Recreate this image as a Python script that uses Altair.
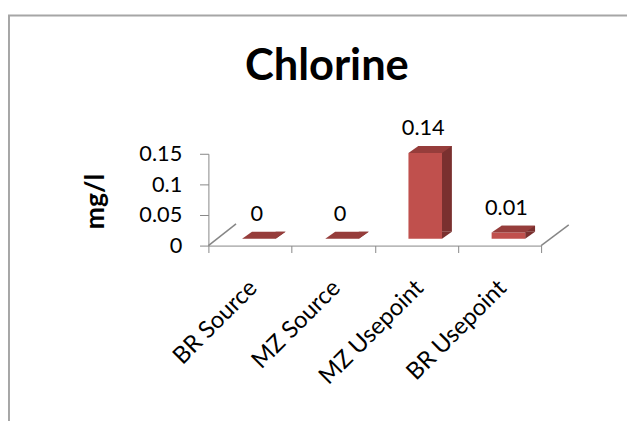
import altair as alt
import pandas as pd

categories = ["BR Source", "MZ Source", "MZ Usepoint", "BR Usepoint"]
values = [0, 0, 0.14, 0.01]
value_labels = ["0", "0", "0.14", "0.01"]
y_ticks = [0, 0.05, 0.1, 0.15]
chart_title = ["Chlorine"]

df = pd.DataFrame({"cat": categories, "val": values, "lab": value_labels, "zero": [0] * len(values)})

FONT = "Lato"
FRONT = "#C0504D"
SIDE = "#7A302F"
TOP = "#963D3B"
AXIS = "#868686"

x_axis = alt.Axis(labelAngle=315, labelAlign="right", labelBaseline="middle",
                  labelFont=FONT, labelFontSize=24, labelColor="#000000",
                  labelPadding=32, labelOffset=3, tickBand="extent", tickSize=7,
                  labelOverlap=False, title=None,
                  tickColor=AXIS, domainColor=AXIS, grid=False)
y_axis = alt.Axis(values=y_ticks, format=".2~f", labelFont=FONT, labelFontSize=22,
                  labelColor="#000000", labelPadding=18, tickSize=9,
                  labelOverlap=False, labelFlush=False, title="mg/l",
                  tickColor=AXIS, domainColor=AXIS, grid=False,
                  titleFont=FONT, titleFontSize=27, titleFontWeight="bold",
                  titleColor="#000000", titleX=-114, titleY=48,
                  titleAlign="center", titleBaseline="middle", titleAngle=270)
x_scale = alt.Scale(paddingInner=0, paddingOuter=0)
y_scale = alt.Scale(domain=[0, 0.15], nice=False)


def X():
    return alt.X("cat:N", sort=categories, scale=x_scale, axis=x_axis, title=None)


def Y(field):
    return alt.Y(field, scale=y_scale, axis=y_axis, title="mg/l")


base = alt.Chart(df)

side = base.mark_bar(width=34, color=SIDE, xOffset=19, x2Offset=19,
                     yOffset=-14, y2Offset=-14).encode(x=X(), y=Y("val:Q"), y2=alt.Y2("zero:Q"))

tri_path = "M 0.545 0.159 L 1 -0.159 L 0.545 -0.159 Z"
base_tri = base.mark_point(shape=tri_path, size=1936, filled=True, fill=SIDE, opacity=1,
                           strokeWidth=0, xOffset=14, yOffset=-10.5).encode(
    x=X(), y=Y("zero:Q"))

front = base.mark_bar(width=34, color=FRONT, xOffset=9, x2Offset=9,
                      yOffset=-7, y2Offset=-7).encode(
    x=X(), y=Y("val:Q"), y2=alt.Y2("zero:Q"))

top_path = "M -1 0.159 L 0.545 0.159 L 1 -0.159 L -0.545 -0.159 Z"
top = base.mark_point(shape=top_path, size=1936, filled=True, fill=TOP, opacity=1,
                      strokeWidth=0, xOffset=14, yOffset=-10.5).encode(
    x=X(), y=Y("val:Q"))

text = base.mark_text(font=FONT, fontSize=22, color="#000000", dx=7, dy=-25,
                      baseline="alphabetic", align="center").encode(
    x=X(), y=Y("val:Q"), text="lab:N")

one = alt.Data(values=[{"a": 1}])
diag_left = alt.Chart(one).mark_rule(color=AXIS, strokeWidth=1.5).encode(
    x=alt.value(0), y=alt.value(93), x2=alt.value(28), y2=alt.value(71))
diag_right = alt.Chart(one).mark_rule(color=AXIS, strokeWidth=1.5).encode(
    x=alt.value(337), y=alt.value(93), x2=alt.value(365), y2=alt.value(72))
frame = alt.Chart(one).mark_rect(fill=None, stroke="#A6A6A6", strokeWidth=2).encode(
    x=alt.value(-202), x2=alt.value(700), y=alt.value(-140), y2=alt.value(700))

title_df = pd.DataFrame({"t": chart_title})
title = alt.Chart(title_df).mark_text(font=FONT, fontSize=44, fontWeight="bold", color="#000000",
                                      align="center", baseline="alphabetic").encode(
    x=alt.value(120), y=alt.value(-75), text="t:N")

chart = alt.layer(frame, side, base_tri, front, top, text, diag_left, diag_right, title).properties(
    width=337, height=93,
    autosize="none",
    padding={"left": 203, "top": 145, "right": 87, "bottom": 175},
).configure_view(stroke=None)

chart.save("out.html", embed_options={"renderer": "svg", "actions": False})
